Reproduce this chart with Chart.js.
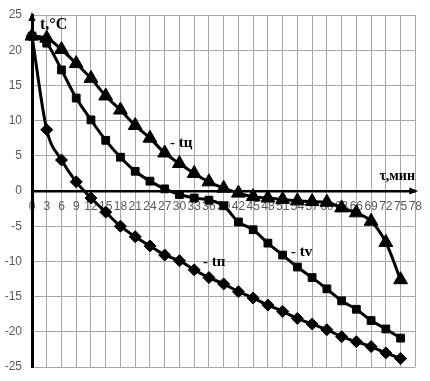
<!DOCTYPE html>
<html>
<head>
<meta charset="utf-8">
<script src="https://cdn.jsdelivr.net/npm/chart.js@4"></script>
<style>
html, body { margin: 0; padding: 0; background: #fff; }
#wrap { width: 430px; height: 381px; }
</style>
</head>
<body>
<div id="wrap"><canvas id="chart"></canvas></div>
<script>
// time, min
const minutes = [0, 3, 6, 9, 12, 15, 18, 21, 24, 27, 30, 33, 36, 39, 42, 45, 48, 51, 54, 57, 60, 63, 66, 69, 72, 75];
// temperatures, °C
const tCenter = [22, 21.7, 20.1, 18.1, 16, 13.5, 11.5, 9.3, 7.5, 5.4, 3.9, 2.5, 1.3, 0.4, -0.3, -0.8, -1.0, -1.2, -1.4, -1.5, -1.6, -2.4, -3.1, -4.3, -7.3, -12.6];
const tVolume = [22, 21, 17.2, 13.2, 10.1, 7.2, 4.8, 2.8, 1.4, 0.3, -0.5, -1.0, -1.3, -2.1, -4.4, -5.5, -7.4, -9.1, -10.8, -12.3, -13.9, -15.6, -16.8, -18.4, -19.6, -20.9];
const tSurface = [22, 8.7, 4.4, 1.3, -1.0, -3.0, -5.0, -6.5, -7.8, -9.1, -9.9, -11.2, -12.3, -13.2, -14.3, -15.2, -16.2, -17.1, -18.1, -18.9, -19.7, -20.7, -21.4, -22.1, -23.0, -23.8];
const xTicks = [0, 3, 6, 9, 12, 15, 18, 21, 24, 27, 30, 33, 36, 39, 42, 45, 48, 51, 54, 57, 60, 63, 66, 69, 72, 75, 78];
const yTicks = [-25, -20, -15, -10, -5, 0, 5, 10, 15, 20, 25];

const pts = vals => minutes.map((m, i) => ({ x: m, y: vals[i] }));

function series(vals, style, r) {
  return {
    data: pts(vals),
    showLine: true,
    borderColor: '#000',
    backgroundColor: '#000',
    borderWidth: 3,
    pointStyle: style,
    pointRadius: r,
    pointBorderWidth: 1,
    cubicInterpolationMode: 'monotone',
    clip: false
  };
}

// arrows on axes and captions
const extras = {
  id: 'extras',
  afterDraw(chart) {
    const ctx = chart.ctx;
    const a = chart.chartArea;
    const y0 = chart.scales.y.getPixelForValue(0);
    ctx.save();
    ctx.fillStyle = '#000';
    ctx.beginPath();
    ctx.moveTo(a.left, a.top - 3);
    ctx.lineTo(a.left - 3.5, a.top + 6);
    ctx.lineTo(a.left + 3.5, a.top + 6);
    ctx.fill();
    ctx.beginPath();
    ctx.moveTo(a.right + 3, y0);
    ctx.lineTo(a.right - 6, y0 - 3.5);
    ctx.lineTo(a.right - 6, y0 + 3.5);
    ctx.fill();

    ctx.textBaseline = 'alphabetic';
    ctx.textAlign = 'left';
    ctx.font = 'bold 16px "Liberation Serif"';
    ctx.fillText('t,°C', 40, 29);
    ctx.textAlign = 'right';
    ctx.font = 'bold 14px "Liberation Serif"';
    ctx.fillText('τ,мин', 415, 180);
    ctx.textAlign = 'left';
    ctx.font = 'bold 15px "Liberation Serif"';
    ctx.fillText('- tц', 170, 147);
    ctx.fillText('- tv', 291, 256);
    ctx.fillText('- tп', 203, 266);
    ctx.restore();
  }
};

new Chart(document.getElementById('chart'), {
  type: 'scatter',
  data: {
    datasets: [
      series(tSurface, 'rectRot', 6),
      series(tVolume, 'rect', 5.5),
      series(tCenter, 'triangle', 8)
    ]
  },
  options: {
    responsive: true,
    maintainAspectRatio: false,
    animation: false,
    layout: { padding: { top: 15, right: 14, bottom: 14, left: 0 } },
    plugins: { legend: { display: false }, tooltip: { enabled: false } },
    scales: {
      x: {
        type: 'linear',
        position: { y: 0 },
        min: 0,
        max: 78,
        afterBuildTicks: s => { s.ticks = xTicks.map(v => ({ value: v })); },
        afterFit: s => { s.height = 0; },
        grid: { color: '#a6a6a6', lineWidth: 1, drawTicks: false },
        border: { color: '#000', width: 2.5 },
        ticks: { autoSkip: false, maxRotation: 0, padding: 8, color: '#595959', font: { family: 'Liberation Sans', size: 12 } }
      },
      y: {
        min: -25,
        max: 25,
        afterBuildTicks: s => { s.ticks = yTicks.map(v => ({ value: v })); },
        afterFit: s => { s.width = 32; s.paddingTop = 0; s.paddingBottom = 0; },
        grid: { color: '#a6a6a6', lineWidth: 1, drawTicks: false },
        border: { color: '#000', width: 3 },
        ticks: { padding: 10, color: '#595959', font: { family: 'Liberation Sans', size: 12 } }
      }
    }
  },
  plugins: [extras]
});
</script>
</body>
</html>
